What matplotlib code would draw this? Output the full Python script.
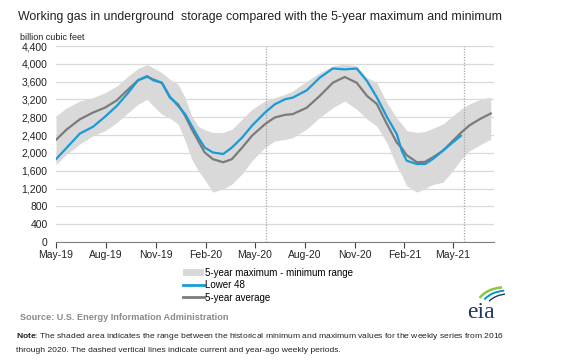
import numpy as np
import pandas as pd
import matplotlib
matplotlib.use("Agg")
import matplotlib.pyplot as plt
import matplotlib.dates as mdates
from matplotlib.ticker import FuncFormatter
from matplotlib.patches import Patch, Arc
from matplotlib.lines import Line2D

plt.rcParams["font.family"] = ["Liberation Sans", "DejaVu Sans"]
plt.rcParams["mathtext.fontset"] = "custom"
plt.rcParams["mathtext.rm"] = "Liberation Sans"
plt.rcParams["mathtext.bf"] = "Liberation Sans:bold"

# weekly-ish readings (billion cubic feet)
dates = pd.to_datetime([
    "2019-05-01", "2019-05-21", "2019-06-14", "2019-07-08", "2019-07-30", "2019-08-21",
    "2019-09-11", "2019-09-29", "2019-10-16", "2019-10-27", "2019-11-12", "2019-11-27",
    "2019-12-12", "2019-12-25", "2020-01-06", "2020-01-18", "2020-01-30", "2020-02-14",
    "2020-03-04", "2020-03-20", "2020-04-08", "2020-04-26", "2020-05-20", "2020-06-07",
    "2020-06-26", "2020-07-10", "2020-08-05", "2020-08-29", "2020-09-22", "2020-10-14",
    "2020-11-05", "2020-11-24", "2020-12-12", "2020-12-31", "2021-01-18", "2021-01-27",
    "2021-02-05", "2021-02-24", "2021-03-11", "2021-03-25", "2021-04-13", "2021-05-01",
    "2021-05-16", "2021-06-01", "2021-06-20", "2021-07-10",
])
five_yr_max = [2830, 3015, 3165, 3240, 3350, 3500, 3725, 3895, 3985, 3910, 3800, 3650,
               3540, 3240, 2830, 2600, 2520, 2460, 2460, 2530, 2760, 2980, 3165, 3240,
               3315, 3390, 3610, 3800, 3950, 4000, 3950, 3690, 3580, 3120, 2780, 2650,
               2500, 2460, 2480, 2550, 2650, 2830, 2980, 3100, 3200, 3255]
five_yr_min = [1735, 1975, 2200, 2385, 2495, 2680, 2905, 3090, 3205, 3055, 2870, 2780,
               2645, 2270, 1860, 1600, 1400, 1120, 1190, 1300, 1530, 1825, 2120, 2270,
               2300, 2345, 2535, 2795, 3015, 3165, 2980, 2760, 2600, 2220, 1700, 1500,
               1260, 1120, 1200, 1290, 1340, 1600, 1850, 2050, 2180, 2310]
five_yr_avg = [2295, 2530, 2755, 2905, 3015, 3180, 3425, 3630, 3710, 3650, 3575, 3240,
               3090, 2830, 2535, 2270, 2010, 1860, 1790, 1860, 2120, 2385, 2645, 2795,
               2855, 2870, 3015, 3280, 3575, 3705, 3575, 3280, 3100, 2640, 2230, 2110,
               1950, 1790, 1800, 1900, 2050, 2270, 2450, 2620, 2760, 2885]
lower_48 = [1860, 2120, 2435, 2585, 2810, 3055, 3350, 3630, 3725, 3630, 3575, 3260,
            3055, 2870, 2610, 2350, 2120, 2010, 1975, 2120, 2345, 2610, 2905, 3090,
            3205, 3240, 3405, 3690, 3895, 3875, 3895, 3615, 3250, 2800, 2420, 2050,
            1825, 1750, 1750, 1860, 2050, 2235, 2385]
period_lines = pd.to_datetime(["2020-05-22", "2021-05-21"])
tick_dates = pd.date_range("2019-05-01", "2021-05-01", freq="3MS")

blue = "#1a9bd7"
grey_line = "#7b7b7b"
band = "#d9d9d9"

fig = plt.figure(figsize=(5.64, 3.62), dpi=100)
ax = fig.add_axes([56 / 564, 1 - 242 / 362, (494 - 56) / 564, (242 - 46) / 362])

ax.fill_between(dates, five_yr_min, five_yr_max, color=band, lw=0, zorder=1)
ax.plot(dates, five_yr_avg, color=grey_line, lw=1.6, zorder=3)
ax.plot(dates[:len(lower_48)], lower_48, color=blue, lw=1.6, zorder=4)
for d in period_lines:
    ax.axvline(d, color="#a8a8a8", lw=0.9, ls=(0, (1.0, 1.2)), zorder=2)

ax.set_ylim(0, 4400)
ax.set_yticks(np.arange(0, 4401, 400))
ax.yaxis.set_major_formatter(FuncFormatter(lambda v, p: f"{int(v):,}"))
ax.set_xlim(pd.Timestamp("2019-05-01"), pd.Timestamp("2021-07-16"))
ax.set_xticks(tick_dates)
ax.xaxis.set_major_formatter(mdates.DateFormatter("%b-%y"))
ax.grid(axis="y", color="#d9d9d9", lw=0.9)
ax.set_axisbelow(True)
for s in ["left", "right", "top"]:
    ax.spines[s].set_visible(False)
ax.spines["bottom"].set_color("#808080")
ax.tick_params(axis="y", length=0, labelsize=7.5, colors="#222222", pad=6)
ax.tick_params(axis="x", direction="out", length=4, color="#404040", labelsize=7.5,
               colors="#222222", pad=2)

fig.text(18 / 564, 1 - 17 / 362, "Working gas in underground  storage compared with the 5-year maximum and minimum",
         fontsize=8.9, color="#222222", va="center")
fig.text(20 / 564, 1 - 37 / 362, "billion cubic feet", fontsize=6.5, color="#222222", va="center")

handles = [Patch(color=band, lw=0),
           Line2D([], [], color=blue, lw=2),
           Line2D([], [], color=grey_line, lw=2)]
labels = ["5-year maximum - minimum range", "Lower 48", "5-year average"]
fig.legend(handles, labels, loc="upper left", bbox_to_anchor=(178 / 564, 1 - 263 / 362),
           frameon=False, fontsize=7, handlelength=2.2, handleheight=0.6,
           handletextpad=0.1, labelspacing=0.25, borderpad=0)

fig.text(20 / 564, 1 - 318 / 362, "Source: U.S. Energy Information Administration",
         fontsize=6.6, color="#8a8a8a", va="center", fontweight="bold")
fig.text(16 / 564, 1 - 336 / 362,
         r"$\bf{Note}$: The shaded area indicates the range between the historical minimum and maximum values for the weekly series from 2016",
         fontsize=6.1, color="#222222", va="center")
fig.text(16 / 564, 1 - 350 / 362,
         "through 2020. The dashed vertical lines indicate current and year-ago weekly periods.",
         fontsize=6.1, color="#222222", va="center")

# eia logo
fig.text(481 / 564, 1 - 313 / 362, "eia", fontsize=17, family="Liberation Serif",
         color="#1f3864", ha="center", va="center")
lax = fig.add_axes([465 / 564, 1 - 306 / 362, 40 / 564, 22 / 362])
lax.set_xlim(0, 1)
lax.set_ylim(0, 1)
lax.axis("off")
lax.add_patch(Arc((1.0, 0.0), 1.4, 1.7, theta1=95, theta2=150, color="#8dc63f", lw=1.8))
lax.add_patch(Arc((1.05, -0.1), 1.3, 1.6, theta1=95, theta2=145, color="#0096d6", lw=1.4))
lax.add_patch(Arc((1.1, -0.2), 1.2, 1.5, theta1=95, theta2=140, color="#1f3864", lw=1.0))

fig.savefig("out.png", dpi=100)
